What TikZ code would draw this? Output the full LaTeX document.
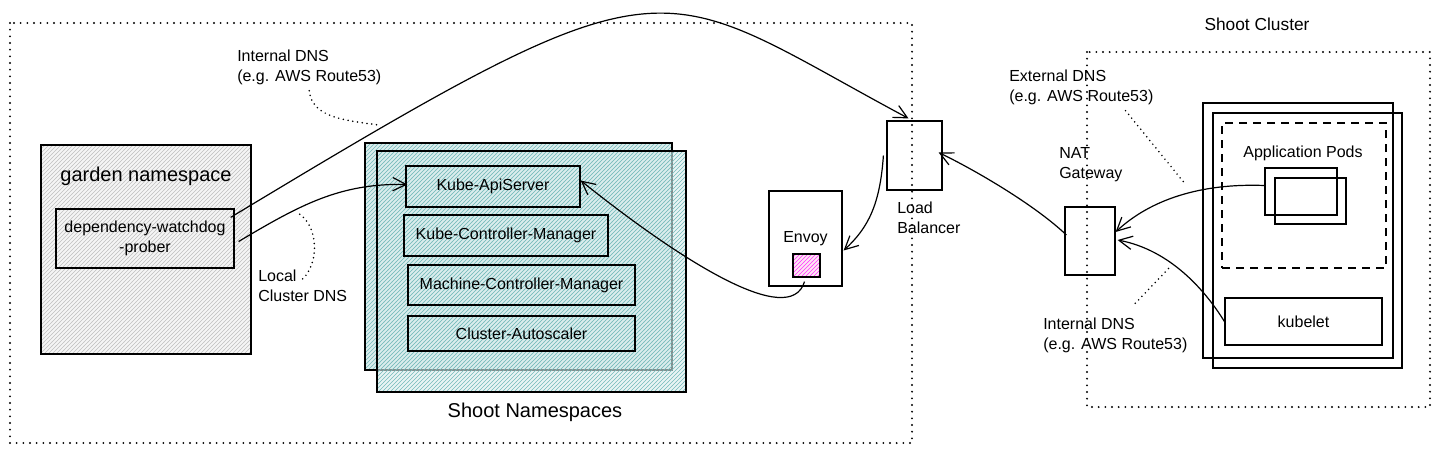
\documentclass[tikz,border=0pt]{standalone}
\usepackage{fontspec}
\setmainfont{Liberation Sans}
\usetikzlibrary{arrows.meta,patterns}

\tikzset{
box/.style 2 args={draw, line width=0.9pt, minimum width=#1*0.75pt, minimum height=#2*0.75pt, inner sep=0pt},
lbl/.style={font=\fontsize{12}{15}\selectfont, inner sep=0pt},
big/.style={font=\fontsize{15}{18}\selectfont, inner sep=0pt},
note/.style={lbl, align=left, anchor=west},
conn/.style={line width=0.9pt, -{Straight Barb[length=10pt,width=10pt]}},
leader/.style={line width=1.3pt, dash pattern=on 0pt off 3.6pt, line cap=round},
frame/.style={line width=1.6pt, dash pattern=on 0pt off 5pt, line cap=round},
hatchgray/.style={preaction={fill=gray!8}, pattern=north east lines, pattern color=gray!50},
hatchteal/.style={preaction={fill=teal!14}, pattern=north east lines, pattern color=teal!55},
hatchpink/.style={preaction={fill=magenta!10}, pattern=north east lines, pattern color=magenta!80}
}

\begin{document}
\begin{tikzpicture}[x=0.75pt,y=-0.75pt]
\useasboundingbox (0,0) rectangle (1438,454);

\draw[frame] (10,23) rectangle (912,443);
\node[box={210}{209}, hatchgray] (garden) at (146,249.5) {};
\node[big] (gardenlbl) at (146,176) {garden namespace};
\node[box={178}{59}, lbl, align=center] (dwd) at (145,238.5) {dependency-watchdog\\-prober};

\node[box={307}{227}, hatchteal] (nsback) at (518.5,256.5) {};
\node[box={309}{241}, hatchteal, fill opacity=0.6] (nsfront) at (531.5,271.5) {};
\node[box={174}{41}, lbl] (api) at (493,186.5) {Kube-ApiServer};
\node[box={204}{41}, lbl] (kcm) at (506,235.5) {Kube-Controller-Manager};
\node[box={227}{40}, lbl] (mcm) at (521.5,285) {Machine-Controller-Manager};
\node[box={227}{35}, lbl] (ca) at (521.5,333.5) {Cluster-Autoscaler};
\node[big] (nslbl) at (535,412) {Shoot Namespaces};

\node[box={73}{95}, lbl] (envoy) at (805.5,238.5) {Envoy};
\node[box={27}{23}, hatchpink] (envoysq) at (806.5,265.5) {};
\node[box={55}{69}] (lb) at (914.5,155.5) {};
\node[note] (lblbl) at (897,218) {Load\\Balancer};
\node[box={50}{68}] (nat) at (1090,241) {};
\node[note] (natlbl) at (1059,165) {NAT\\Gateway};

\draw[frame] (1087,52) rectangle (1430,407);
\node[lbl, font=\fontsize{13}{15}\selectfont] (sclbl) at (1257,24) {Shoot Cluster};
\node[box={190}{255}] (wback) at (1298,230.5) {};
\node[box={189}{255}] (wfront) at (1307.5,240.5) {};
\node[box={164}{145}, dash pattern=on 6pt off 4.5pt] (pods) at (1304,195.5) {};
\node[lbl] (podslbl) at (1303,153) {Application Pods};
\node[box={72}{47}] (poda) at (1301,191.5) {};
\node[box={71}{46}] (podb) at (1310.5,201) {};
\node[box={157}{47}, lbl] (kubelet) at (1303.5,321.5) {kubelet};

\node[note] (intdns) at (237,67) {Internal DNS\\(e.g. AWS Route53)};
\node[note] (localdns) at (258,286) {Local\\Cluster DNS};
\node[note] (extdns) at (1009,87) {External DNS\\(e.g. AWS Route53)};
\node[note] (intdnsw) at (1043,335) {Internal DNS\\(e.g. AWS Route53)};

\draw[conn] ([shift={(-4,9)}]dwd.north east) .. controls (680,-54) and (650,-20) .. ([shift={(-6,-2)}]lb.north);
\draw[conn] ([shift={(4,3)}]dwd.east) .. controls (300,205) and (340,183) .. ([shift={(2,-2)}]api.west);
\draw[conn] ([shift={(-2,4)}]envoysq.south) .. controls (790,330) and (680,260) .. ([shift={(0,-6)}]api.east);
\draw[conn] ([shift={(-3,0)}]lb.west) .. controls (880,205) and (868,228) .. ([shift={(1,12)}]envoy.east);
\draw[conn] ([shift={(2,-6)}]nat.west) .. controls (1035,205) and (975,170) .. ([shift={(-4,-3)}]lb.east);
\draw[conn] ([shift={(0,-6)}]poda.west) .. controls (1200,183) and (1150,200) .. ([shift={(0,-9)}]nat.east);
\draw[conn] (kubelet.west) .. controls (1205,290) and (1170,250) .. ([shift={(2,-1)}]nat.east);

\coordinate (intdnsend) at (378,125);
\coordinate (localend) at (298,213);
\coordinate (extend) at (1186,185);
\coordinate (intwend) at (1170,267);
\draw[leader] ([shift={(0,6)}]intdns.south) .. controls (312,118) and (345,120) .. (intdnsend);
\draw[leader] ([shift={(0,9)}]localdns.north) .. controls (320,262) and (318,225) .. (localend);
\draw[leader] ([shift={(-28,6)}]extdns.south east) -- (extend);
\draw[leader] ([shift={(20,-14)}]intdnsw.north) -- (intwend);
\end{tikzpicture}
\end{document}
